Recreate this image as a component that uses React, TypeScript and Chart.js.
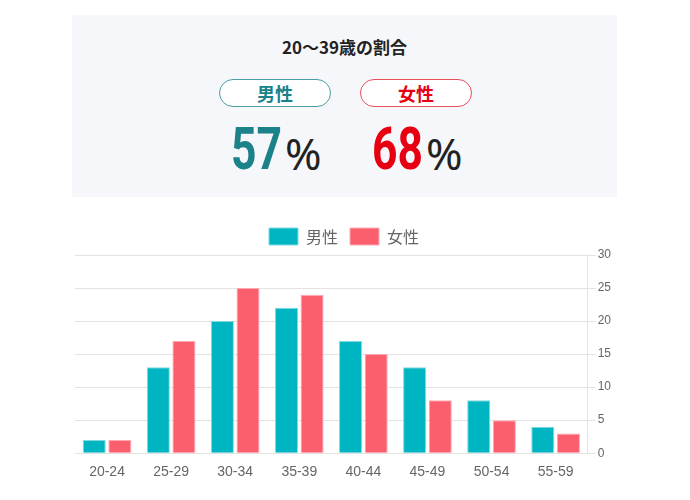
import React, { useEffect, useRef } from "react";
import { Chart, registerables } from "chart.js";

Chart.register(...registerables);

const categories = ["20-24", "25-29", "30-34", "35-39", "40-44", "45-49", "50-54", "55-59"];
const maleValues = [2, 13, 20, 22, 17, 13, 8, 4];
const femaleValues = [2, 17, 25, 24, 15, 8, 5, 3];
const seriesNames = ["男性", "女性"];
const summaryTitle = "20〜39歳の割合";
const malePct = "57";
const femalePct = "68";

const FONT = "'Noto Sans CJK JP', 'Noto Sans', sans-serif";
const PANEL_W = 545;

export default function App() {
  const ref = useRef<HTMLCanvasElement | null>(null);

  useEffect(() => {
    if (!ref.current) return;
    const chart = new Chart(ref.current, {
      type: "bar",
      data: {
        labels: categories,
        datasets: [
          {
            label: seriesNames[0],
            data: maleValues,
            backgroundColor: "#00b5c2",
            borderColor: "#7fdbe1",
            borderWidth: 1,
          },
          {
            label: seriesNames[1],
            data: femaleValues,
            backgroundColor: "#fb5f6e",
            borderColor: "#fdaab2",
            borderWidth: 1,
          },
        ],
      },
      options: {
        animation: false,
        responsive: false,
        maintainAspectRatio: false,
        layout: { padding: 0 },
        plugins: {
          legend: {
            display: true,
            position: "top",
            labels: {
              boxWidth: 29,
              boxHeight: 17,
              color: "#666",
              font: { size: 16, family: FONT },
              padding: 12,
            },
          },
          tooltip: { enabled: false },
        },
        scales: {
          x: {
            grid: { display: false },
            border: { display: false },
            ticks: { color: "#666", font: { size: 14, family: "'Liberation Sans', Arial, sans-serif" } },
          },
          y: {
            position: "right",
            min: 0,
            max: 30,
            ticks: {
              stepSize: 5,
              color: "#666",
              padding: 2,
              font: { size: 12, family: "'Liberation Sans', Arial, sans-serif" },
            },
            grid: { color: "#e3e3e3", tickLength: 8 },
            border: { display: true, color: "#e3e3e3" },
          },
        },
      },
    });
    return () => chart.destroy();
  }, []);

  const pill = (text: string, border: string, color: string) => (
    <div
      style={{
        width: 112,
        height: 28,
        border: `1.5px solid ${border}`,
        borderRadius: 14,
        background: "#fff",
        display: "flex",
        alignItems: "center",
        justifyContent: "center",
        color,
        fontWeight: 700,
        fontSize: 18,
        boxSizing: "border-box",
      }}
    >
      {text}
    </div>
  );

  const bigNum = (num: string, color: string, split: number) => (
    <>
      <div
        style={{
          position: "absolute",
          right: PANEL_W - split,
          top: 104,
          lineHeight: "60px",
          fontSize: 60,
          fontWeight: 700,
          fontFamily: "'Roboto', 'Noto Sans', sans-serif",
          color,
          transform: "scaleX(0.74)",
          transformOrigin: "right center",
          whiteSpace: "nowrap",
        }}
      >
        {num}
      </div>
      <div
        style={{
          position: "absolute",
          left: split + 3,
          top: 116,
          lineHeight: "44px",
          fontSize: 44,
          fontWeight: 400,
          fontFamily: "'Noto Sans', sans-serif",
          color: "#222",
        }}
      >
        %
      </div>
    </>
  );

  return (
    <div style={{ position: "relative", width: 690, height: 500, margin: -8, fontFamily: FONT }}>
      <div
        style={{
          position: "absolute",
          left: 72,
          top: 15,
          width: PANEL_W,
          height: 182,
          background: "#f6f7fb",
        }}
      >
        <div
          style={{
            position: "absolute",
            top: 19,
            left: 0,
            right: 0,
            textAlign: "center",
            fontSize: 17,
            fontWeight: 700,
            color: "#222",
          }}
        >
          {summaryTitle}
        </div>
        <div style={{ position: "absolute", left: 147, top: 64 }}>{pill(seriesNames[0], "#4a9ea4", "#1a8289")}</div>
        <div style={{ position: "absolute", left: 288, top: 64 }}>{pill(seriesNames[1], "#e8505b", "#e60012")}</div>
        {bigNum(malePct, "#1a8288", 210)}
        {bigNum(femalePct, "#e60012", 351)}
      </div>
      <canvas
        ref={ref}
        width={538}
        height={268}
        style={{ position: "absolute", left: 75, top: 216, width: 538, height: 268 }}
      />
    </div>
  );
}
